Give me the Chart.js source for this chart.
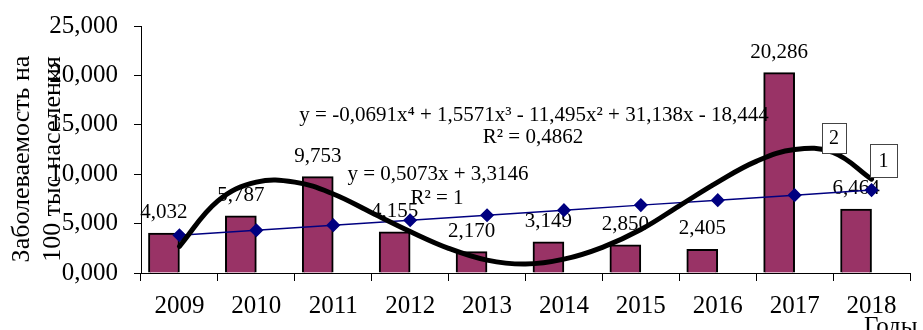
<!DOCTYPE html>
<html>
<head>
<meta charset="utf-8">
<script src="https://cdn.jsdelivr.net/npm/chart.js@4"></script>
<style>
  body { margin: 0; background: #fff; }
  canvas { display: block; }
</style>
</head>
<body>
<canvas id="chart" width="923" height="330"></canvas>
<script>
const years = ["2009","2010","2011","2012","2013","2014","2015","2016","2017","2018"]
const incidence = [4.032, 5.787, 9.753, 4.155, 2.170, 3.149, 2.850, 2.405, 20.286, 6.464]
const linearTrend = [3.82, 4.33, 4.84, 5.34, 5.85, 6.36, 6.87, 7.37, 7.88, 8.39]
// polynomial trend every half year
const polyX = [2009, 2009.5, 2010, 2010.5, 2011, 2011.5, 2012, 2012.5, 2013, 2013.5, 2014, 2014.5, 2015, 2015.5, 2016, 2016.5, 2017, 2017.5, 2018]
const polyTrend = [2.7, 7.3, 9.2, 9.2, 8.0, 6.1, 4.2, 2.5, 1.3, 0.9, 1.4, 2.6, 4.4, 6.8, 9.2, 11.3, 12.5, 12.2, 9.5]
const yTicks = [0, 5, 10, 15, 20, 25]

const SERIF = "'Liberation Serif', 'Times New Roman', serif"
const fmt = v => v.toFixed(3).replace(".", ",")

const overlay = {
    id: "overlay",
    afterDatasetDraw(chart, args){
        if(args.index !== 0) return
        const ctx = chart.ctx
        const meta = chart.getDatasetMeta(0)
        ctx.save()
        ctx.font = "21px " + SERIF
        ctx.fillStyle = "#000"
        ctx.textAlign = "center"
        ctx.textBaseline = "alphabetic"
        meta.data.forEach((bar, i)=>{
            ctx.fillText(fmt(incidence[i]), bar.x, bar.y - 15)
        })
        ctx.restore()
    },
    afterDraw(chart){
        const ctx = chart.ctx
        ctx.save()
        ctx.fillStyle = "#000"

        // equations
        ctx.font = "21px " + SERIF
        ctx.textAlign = "center"
        ctx.textBaseline = "alphabetic"
        ctx.fillText("y = -0,0691x\u2074 + 1,5571x\u00b3 - 11,495x\u00b2 + 31,138x - 18,444", 534, 121)
        ctx.fillText("R\u00b2 = 0,4862", 533, 143)
        ctx.fillText("y = 0,5073x + 3,3146", 438, 180)
        ctx.fillText("R\u00b2 = 1", 437, 204)

        // axis titles
        ctx.font = "25px " + SERIF
        ctx.textAlign = "left"
        ctx.fillText("Годы", 864, 334)
        ctx.save()
        ctx.translate(22, 159)
        ctx.rotate(-Math.PI/2)
        ctx.font = "26px " + SERIF
        ctx.textAlign = "center"
        ctx.textBaseline = "middle"
        ctx.fillText("Заболеваемость на", 0, 0)
        ctx.fillText("100 тыс населения", 0, 31)
        ctx.restore()

        // numbered callouts
        const box = (x, y, w, h, t)=>{
            ctx.fillStyle = "#fff"
            ctx.fillRect(x, y, w, h)
            ctx.strokeStyle = "#444"
            ctx.lineWidth = 1
            ctx.strokeRect(x + 0.5, y + 0.5, w, h)
            ctx.fillStyle = "#000"
            ctx.font = "20px " + SERIF
            ctx.textAlign = "center"
            ctx.textBaseline = "middle"
            ctx.fillText(t, x + w/2, y + h/2 + 1)
        }
        box(822, 123, 24, 30, "2")
        box(870, 144, 27, 33, "1")
        ctx.restore()
    }
}

new Chart(document.getElementById("chart"), {
    data: {
        labels: years,
        datasets: [
            {type:"bar", data: incidence, backgroundColor:"#993366", borderColor:"#000", borderWidth:2,
             barThickness:31, order:3},
            {type:"line", data: linearTrend, borderColor:"#000080", borderWidth:1.5, pointStyle:"rectRot",
             pointRadius:6, pointBackgroundColor:"#000080", pointBorderColor:"#000080", order:2},
            {type:"line", data: polyX.map((x, i)=>({x, y: polyTrend[i]})), xAxisID:"x2", borderColor:"#000",
             borderWidth:5, pointRadius:0, tension:0.4, borderCapStyle:"round", order:1}
        ]
    },
    options: {
        responsive:false,
        animation:false,
        layout:{padding:{top:26, right:13, left:0, bottom:0}},
        plugins:{legend:{display:false}, tooltip:{enabled:false}},
        scales:{
            x:{
                offset:true,
                grid:{offset:true, drawOnChartArea:false, tickLength:8, color:"#000"},
                border:{color:"#000", width:1},
                ticks:{font:{family:SERIF, size:25}, color:"#000", padding:10, maxRotation:0},
                afterFit(scale){ scale.height = 57 }
            },
            x2:{type:"linear", display:false, min:2008.5, max:2018.5},
            y:{
                min:0, max:25,
                afterBuildTicks(scale){ scale.ticks = yTicks.map(v=>({value:v})) },
                grid:{drawOnChartArea:false, tickLength:7, color:"#000"},
                border:{color:"#000", width:1},
                ticks:{font:{family:SERIF, size:25}, color:"#000", padding:16, callback:v=>fmt(v)},
                afterFit(scale){
                    scale.width = 141
                    scale.paddingTop = 10
                    scale.paddingBottom = 10
                }
            }
        }
    },
    plugins:[overlay]
})
</script>
</body>
</html>
